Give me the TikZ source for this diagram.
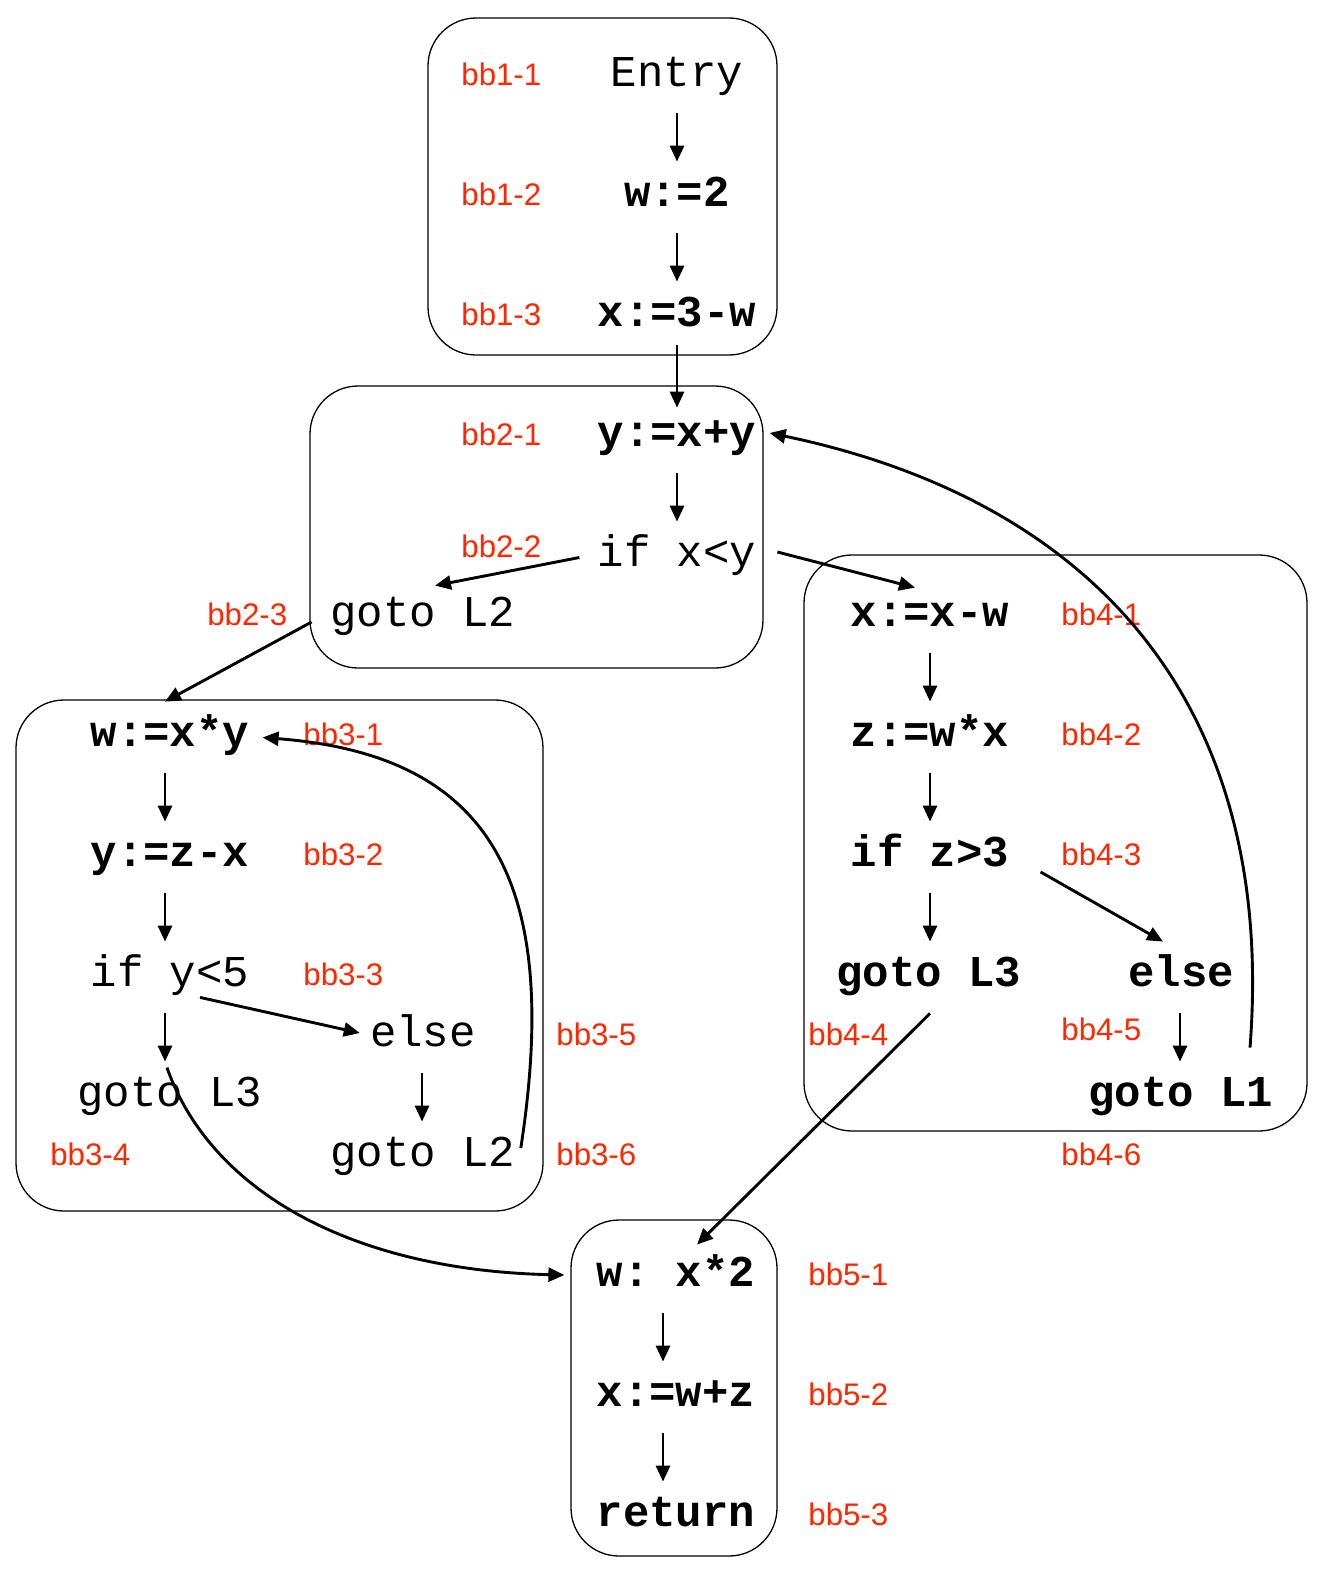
\documentclass[tikz,border=0pt]{standalone}
\usepackage{fontspec}
\setmainfont{Liberation Sans}
\setsansfont{Liberation Sans}
\setmonofont{Liberation Mono}
\usetikzlibrary{arrows.meta,calc}
\definecolor{lblred}{RGB}{255,38,0}
\newcommand\varr[3]{\draw[arr] ($(#1.south)+(#3,0)$) -- ($(#1.south |- #2.north)+(#3,0)$);}
\begin{document}
\begin{tikzpicture}[x=0.5pt,y=-0.5pt,
  blk/.style={draw,line width=0.65pt,rounded corners=24pt,inner sep=0pt,outer sep=0pt},
  code/.style={font=\fontsize{22pt}{26pt}\selectfont\ttfamily,text height=17pt,text depth=8.5pt,inner sep=5pt,anchor=base},
  codeb/.style={code,font=\fontsize{22pt}{26pt}\selectfont\ttfamily\bfseries},
  lbl/.style={font=\fontsize{15.6pt}{18pt}\selectfont\sffamily,text=lblred,inner sep=0pt,anchor=base west},
  arr/.style={line width=1.45pt,-{Triangle[length=8pt,width=7pt]}},
]
\useasboundingbox (0,0) rectangle (1328,1574);
% blocks
\node[blk,minimum width=174.5pt,minimum height=168.5pt] (b1) at (602.5,186.5) {};
\node[blk,minimum width=226.5pt,minimum height=141pt] (b2) at (536.5,527) {};
\node[blk,minimum width=263.5pt,minimum height=255.5pt] (b3) at (279.5,955.5) {};
\node[blk,minimum width=251.5pt,minimum height=288pt] (b4) at (1055.5,843) {};
\node[blk,minimum width=103pt,minimum height=168pt] (b5) at (674,1388) {};
% block 1
\node[code] (n11) at (677,86) {Entry};
\node[codeb] (n12) at (677,206) {w:=2};
\node[codeb] (n13) at (677,326) {x:=3-w};
\node[lbl] (l11) at (461,85) {bb1-1};
\node[lbl] (l12) at (461,205) {bb1-2};
\node[lbl] (l13) at (461,325) {bb1-3};
% block 2
\node[codeb] (n21) at (677,446) {y:=x+y};
\node[code] (n22) at (677,566) {if x<y};
\node[code] (n23) at (423,626) {goto L2};
\node[lbl] (l21) at (461,445) {bb2-1};
\node[lbl] (l22) at (461,557) {bb2-2};
\node[lbl] (l23) at (207,625) {bb2-3};
% block 3
\node[codeb] (n31) at (170,746) {w:=x*y};
\node[codeb] (n32) at (170,866) {y:=z-x};
\node[code] (n33) at (170,986) {if y<5};
\node[code] (n35) at (423,1046) {else};
\node[code] (n34) at (170,1106) {goto L3};
\node[code] (n36) at (423,1166) {goto L2};
\node[lbl] (l31) at (303,745) {bb3-1};
\node[lbl] (l32) at (303,865) {bb3-2};
\node[lbl] (l33) at (303,985) {bb3-3};
\node[lbl] (l35) at (556,1045) {bb3-5};
\node[lbl] (l34) at (50,1165) {bb3-4};
\node[lbl] (l36) at (556,1165) {bb3-6};
% block 4
\node[codeb] (n41) at (930,626) {x:=x-w};
\node[codeb] (n42) at (930,746) {z:=w*x};
\node[codeb] (n43) at (930,866) {if z>3};
\node[codeb] (n44) at (929,986) {goto L3};
\node[codeb] (n45) at (1181,986) {else};
\node[codeb] (n46) at (1181,1106) {goto L1};
\node[lbl] (l41) at (1061,625) {bb4-1};
\node[lbl] (l42) at (1061,745) {bb4-2};
\node[lbl] (l43) at (1061,865) {bb4-3};
\node[lbl] (l44) at (808,1045) {bb4-4};
\node[lbl] (l45) at (1061,1040) {bb4-5};
\node[lbl] (l46) at (1061,1165) {bb4-6};
% block 5
\node[codeb] (n51) at (676,1286) {w: x*2};
\node[codeb] (n52) at (676,1406) {x:=w+z};
\node[codeb] (n53) at (676,1526) {return};
\node[lbl] (l51) at (808,1285) {bb5-1};
\node[lbl] (l52) at (808,1405) {bb5-2};
\node[lbl] (l53) at (808,1525) {bb5-3};
% vertical arrows
\varr{n11}{n12}{0}
\varr{n12}{n13}{0}
\varr{n21}{n22}{0}
\varr{n31}{n32}{-5}
\varr{n32}{n33}{-5}
\varr{n33}{n34}{-5}
\varr{n35}{n36}{-1}
\varr{n41}{n42}{0}
\varr{n42}{n43}{0}
\varr{n43}{n44}{0}
\varr{n45}{n46}{-1}
\varr{n51}{n52}{-13}
\varr{n52}{n53}{-13}
% other arrows
\draw[arr] ([yshift=4pt]n13.south) -- ([yshift=-3pt]n21.north);
\draw[arr] ([xshift=-4pt]n22.west) -- ([xshift=6pt,yshift=-2pt]n23.north);
\draw[arr] ([xshift=5.4pt,yshift=2.75pt]n22.east) -- ([xshift=-7.5pt,yshift=-3pt]n41.north);
\draw[arr] ([xshift=-4.3pt,yshift=-2.25pt]n23.west) -- ([xshift=-2.5pt]n31.north);
\draw[arr] ([xshift=15pt,yshift=8pt]n33.south) -- ([yshift=2.25pt]n35.west);
\draw[arr] ([xshift=10.5pt,yshift=-7.25pt]n43.east) -- ([xshift=-9pt]n45.north);
\draw[arr] ([xshift=0.5pt]n44.south) -- ([xshift=10.5pt,yshift=-1.5pt]n51.north);
\draw[arr] ([xshift=-2.5pt,yshift=4.75pt]n36.east) .. controls (562,880) and (490,755) .. ([xshift=1.5pt]n31.east);
\draw[arr] ([xshift=34.5pt,yshift=7pt]n46.north) .. controls (1277,700) and (1090,500) .. ([xshift=1.5pt,yshift=2.25pt]n21.east);
\draw[arr] ([xshift=-1.5pt,yshift=-3pt]n34.north) .. controls (210,1190) and (350,1270) .. ([xshift=-11pt,yshift=1.25pt]n51.west);
\end{tikzpicture}
\end{document}
